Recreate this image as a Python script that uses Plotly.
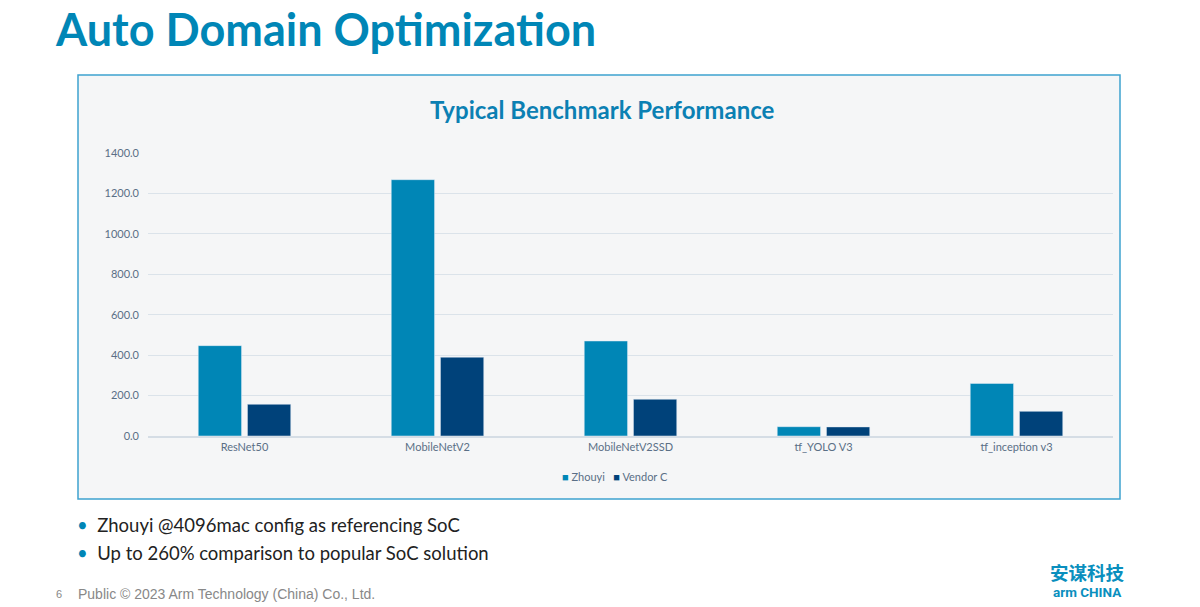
import plotly.graph_objects as go

# benchmark values
models = ["ResNet50", "MobileNetV2", "MobileNetV2SSD", "tf_YOLO V3", "tf_inception v3"]
zhouyi = [447, 1268, 470, 46, 260]
vendor_c = [157, 390, 182, 45, 122]
y_ticks = [0, 200, 400, 600, 800, 1000, 1200, 1400]

BLUE = "#0086b6"
NAVY = "#00427a"
OFF = 8  # the page body adds an 8px margin
W, H = 1192, 599
# plot area in page pixels
PL, PR, PT, PB = 148, 1113, 153, 436


def px(x):
    return (x - PL) / (PR - PL)


def py(y):
    return (PB - y) / (PB - PT)


fig = go.Figure()
fig.add_trace(go.Bar(x=models, y=zhouyi, name="Zhouyi", marker=dict(color=BLUE)))
fig.add_trace(go.Bar(x=models, y=vendor_c, name="Vendor C", marker=dict(color=NAVY)))

fig.update_layout(
    width=W, height=H,
    margin=dict(l=PL - OFF, r=W + OFF - PR, t=PT - OFF, b=H + OFF - PB, pad=0),
    paper_bgcolor="white",
    plot_bgcolor="rgba(0,0,0,0)",
    barmode="group", bargap=0.49, bargroupgap=0.12,
    font=dict(family="Lato, Noto Sans, sans-serif", color="#5a6f86"),
    showlegend=False,
)
fig.update_yaxes(range=[0, 1400], tickvals=y_ticks, tickformat=".1f",
                 gridcolor="#dbe3ea", gridwidth=1, zeroline=False,
                 tickfont=dict(size=11, color="#5a6f86"), ticks="", ticklabelstandoff=8,
                 showline=False, fixedrange=True)
fig.update_xaxes(showline=True, linecolor="#d5dde5", linewidth=1.5,
                 tickfont=dict(size=11, color="#5a6f86"), ticks="", fixedrange=True)

# chart box
fig.add_shape(type="rect", xref="paper", yref="paper",
              x0=px(78), x1=px(1120), y0=py(499), y1=py(75),
              fillcolor="#f5f6f7", line=dict(color="#3ea2d0", width=1.5), layer="below")

legend_txt = ("<span style='color:%s'>■</span> Zhouyi   "
              "<span style='color:%s'>■</span> Vendor C" % (BLUE, NAVY))

ann = [
    dict(text="<b>Auto Domain Optimization</b>", x=px(53), y=py(29), xanchor="left",
         font=dict(size=45, color=BLUE)),
    dict(text="<b>Typical Benchmark Performance</b>", x=px(602), y=py(109), xanchor="center",
         font=dict(size=24, color="#0b80b3")),
    dict(text=legend_txt, x=px(615), y=py(476), xanchor="center",
         font=dict(size=11, color="#5a6f86")),
    dict(text="<span style='color:%s'>•</span>  Zhouyi @4096mac config as referencing SoC" % BLUE,
         x=px(75), y=py(525), xanchor="left", font=dict(size=18.5, color="#222222")),
    dict(text="<span style='color:%s'>•</span>  Up to 260%% comparison to popular SoC solution" % BLUE,
         x=px(75), y=py(553), xanchor="left", font=dict(size=18.5, color="#222222")),
    dict(text="6", x=px(54), y=py(594), xanchor="left",
         font=dict(size=11, color="#888888", family="Liberation Sans, Arial")),
    dict(text="Public © 2023 Arm Technology (China) Co., Ltd.", x=px(76), y=py(594), xanchor="left",
         font=dict(size=14, color="#888888", family="Liberation Sans, Arial")),
    dict(text="<b>安谋科技</b>", x=px(1087), y=py(572), xanchor="center",
         font=dict(size=18.5, color="#0a8fbe", family="Noto Sans CJK SC")),
    dict(text="<b>arm CHINA</b>", x=px(1087), y=py(592), xanchor="center",
         font=dict(size=13.5, color="#0a8fbe", family="Roboto")),
]
for a in ann:
    fig.add_annotation(xref="paper", yref="paper", showarrow=False, yanchor="middle", **a)

fig.write_html("out.html")
